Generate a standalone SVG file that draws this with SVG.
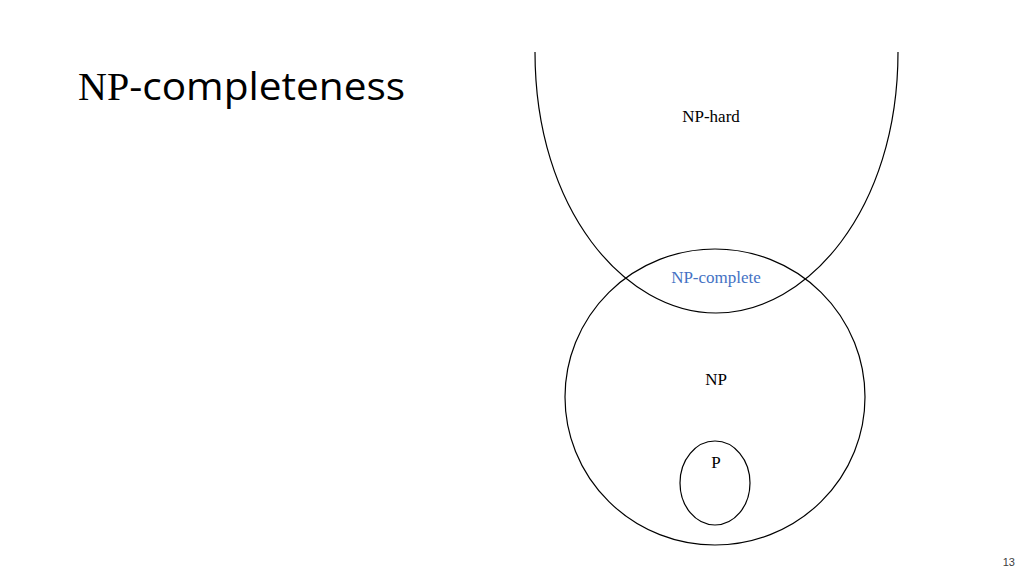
<svg xmlns="http://www.w3.org/2000/svg" width="1024" height="576" viewBox="0 0 1024 576">
<style>
.s{fill:none;stroke:#000;stroke-width:1.2}
.t{font-family:"Liberation Serif",serif;font-size:17px;text-anchor:middle}
.ser{font-family:"Liberation Serif",serif;font-size:40px}
.san{font-family:"Open Sans","Liberation Sans",sans-serif;font-size:38px}
</style>
<rect width="1024" height="576" fill="#fff"/>
<text x="78" y="100"><tspan class="ser">NP</tspan><tspan class="san" textLength="276" lengthAdjust="spacingAndGlyphs">-completeness</tspan></text>
<g id="nphard"><path class="s" d="M535,52 C535,210 625,313 716,313 C807,313 898,210 898,52"/><text class="t" x="711" y="122">NP-hard</text></g>
<g id="np"><ellipse class="s" cx="715" cy="397" rx="150" ry="148"/><text class="t" x="716" y="385">NP</text></g>
<g id="npc"><text class="t" x="716" y="283" fill="#4472C4">NP-complete</text></g>
<g id="p"><ellipse class="s" cx="715" cy="483" rx="35" ry="42"/><text class="t" x="716" y="468">P</text></g>
<g id="connectors"/>
<text x="1015" y="566" font-family="Liberation Sans,sans-serif" font-size="11" text-anchor="end" fill="#404040">13</text>
</svg>
